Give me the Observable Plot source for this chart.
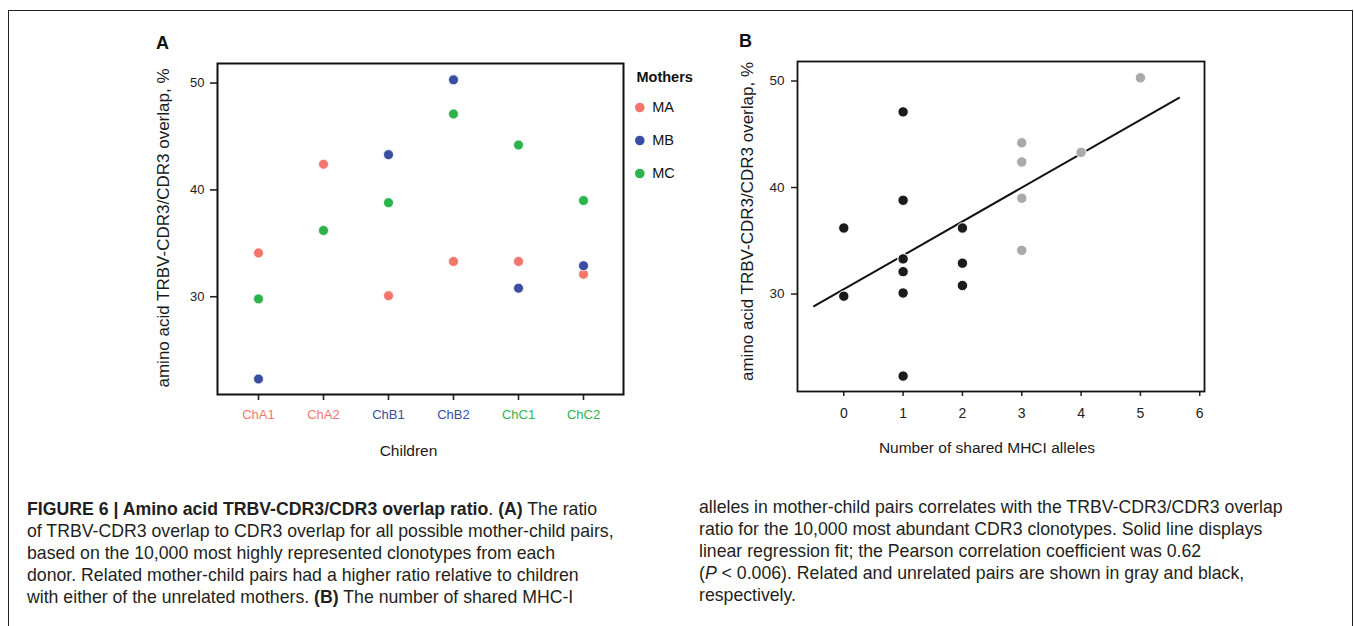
<!DOCTYPE html>
<html><head><meta charset="utf-8">
<script src="https://cdn.jsdelivr.net/npm/d3@7"></script>
<script src="https://cdn.jsdelivr.net/npm/@observablehq/plot@0.6"></script>
<style>
html,body{margin:0;padding:0;background:#fff;}
body{width:1354px;height:626px;position:relative;overflow:hidden;font-family:"Liberation Sans",Arial,sans-serif;}
#frame{position:absolute;left:8px;top:10px;width:1345px;height:640px;border:1px solid #222;border-bottom:none;box-sizing:border-box;}
.abs{position:absolute;}
.cap{position:absolute;font-size:17.7px;line-height:22px;color:#231f20;white-space:nowrap;}
.cap div{height:22px;}
</style></head><body>
<div id="frame"></div>
<div id="plotA" class="abs" style="left:0;top:0"></div>
<div id="legendA" class="abs" style="left:620px;top:60px"></div>
<div id="plotB" class="abs" style="left:700px;top:0"></div>
<div id="capL" class="cap" style="left:27px;top:498px"></div>
<div id="capR" class="cap" style="left:699px;top:496px"></div>
<script>
// ---------- data ----------
const children = ["ChA1", "ChA2", "ChB1", "ChB2", "ChC1", "ChC2"];
const childMother = ["MA", "MA", "MB", "MB", "MC", "MC"];
const mothers = ["MA", "MB", "MC"];
const motherColors = ["#f3766d", "#3a4ea1", "#2db34b"];
const overlapMA = [34.1, 42.4, 30.1, 33.3, 33.3, 32.1];
const overlapMB = [22.3, 36.2, 43.3, 50.3, 30.8, 32.9];
const overlapMC = [29.8, 36.2, 38.8, 47.1, 44.2, 39.0];
const sharedMA = [3, 3, 1, 1, 1, 1];
const sharedMB = [1, 2, 4, 5, 2, 2];
const sharedMC = [0, 0, 1, 1, 3, 3];
const yTicks = [30, 40, 50];
const xTicksB = [0, 1, 2, 3, 4, 5, 6];
const yDomain = [20.85, 51.83];
const xDomainB = [-0.78, 6.08];
const fitRange = [-0.5, 5.65];
const pairGroups = ["unrelated", "related"];
const pairColors = ["#1b1b1b", "#a9a9a9"];
const capLeft = [
  '<b>FIGURE 6 | Amino acid TRBV-CDR3/CDR3 overlap ratio</b>. <b>(A)</b> The ratio',
  'of TRBV-CDR3 overlap to CDR3 overlap for all possible mother-child pairs,',
  'based on the 10,000 most highly represented clonotypes from each',
  'donor. Related mother-child pairs had a higher ratio relative to children',
  'with either of the unrelated mothers. <b>(B)</b> The number of shared MHC-I'
];
const capRight = [
  'alleles in mother-child pairs correlates with the TRBV-CDR3/CDR3 overlap',
  'ratio for the 10,000 most abundant CDR3 clonotypes. Solid line displays',
  'linear regression fit; the Pearson correlation coefficient was 0.62',
  '(<i>P</i> &lt; 0.006). Related and unrelated pairs are shown in gray and black,',
  'respectively.'
];

// ---------- table ----------
const overlapBy = {MA: overlapMA, MB: overlapMB, MC: overlapMC};
const sharedBy = {MA: sharedMA, MB: sharedMB, MC: sharedMC};
const rows = [];
for (const m of mothers) {
  children.forEach((c, i) => {
    rows.push({child: c, mother: m, overlap: overlapBy[m][i], shared: sharedBy[m][i],
      group: childMother[i] === m ? "related" : "unrelated"});
  });
}
const mx = d3.mean(rows, d => d.shared), my = d3.mean(rows, d => d.overlap);
const slope = d3.sum(rows, d => (d.shared - mx) * (d.overlap - my)) / d3.sum(rows, d => (d.shared - mx) ** 2);
const intercept = my - slope * mx;
const fitPoints = fitRange.map(x => ({x, y: intercept + slope * x}));

const font = "Liberation Sans, Arial, sans-serif";
const yTitle = "amino acid TRBV-CDR3/CDR3 overlap, %";

// ---------- Panel A ----------
const plotA = Plot.plot({
  width: 700, height: 470,
  marginLeft: 217, marginRight: 77, marginTop: 63, marginBottom: 76,
  style: {fontFamily: font, fontSize: "13px", color: "#222", background: "transparent", overflow: "visible"},
  x: {type: "point", domain: children, padding: 0.6},
  y: {domain: yDomain},
  color: {domain: mothers, range: motherColors},
  marks: [
    Plot.axisX({ticks: children, tickSize: 6, tickPadding: 9, label: null, fontSize: 13, strokeWidth: 1.6,
      fill: d => childMother[children.indexOf(d)]}),
    Plot.axisY({ticks: yTicks, tickSize: 7, tickPadding: 6, label: null, fontSize: 13, strokeWidth: 1.6}),
    Plot.dot(rows, {x: "child", y: "overlap", fill: "mother", r: 5, stroke: "white", strokeWidth: 0.8}),
    Plot.frame({stroke: "#111", strokeWidth: 2}),
    Plot.text([yTitle], {frameAnchor: "left", textAnchor: "middle", lineAnchor: "middle", rotate: -90, dx: -54, dy: -1, fontSize: 17, fill: "#1a1a1a"}),
    Plot.text(["Children"], {frameAnchor: "bottom", textAnchor: "middle", lineAnchor: "middle", dx: -12, dy: 57, fontSize: 15.5, fill: "#1a1a1a"}),
    Plot.text(["A"], {frameAnchor: "top-left", textAnchor: "middle", lineAnchor: "middle", dx: -55, dy: -20, fontSize: 18, fontWeight: "bold", fill: "#111"})
  ]
});
document.getElementById("plotA").append(plotA);

// ---------- Legend A ----------
const legendA = Plot.plot({
  width: 100, height: 130,
  marginLeft: 0, marginRight: 0, marginTop: 47.3, marginBottom: 16.7,
  style: {fontFamily: font, color: "#111", background: "transparent", overflow: "visible"},
  y: {type: "point", domain: mothers, padding: 0, axis: null},
  color: {domain: mothers, range: motherColors},
  marks: [
    Plot.dot(mothers, {y: d => d, fill: d => d, frameAnchor: "left", dx: 19.3, r: 4.8}),
    Plot.text(mothers, {y: d => d, frameAnchor: "left", dx: 31.7, textAnchor: "start", fontSize: 14.5}),
    Plot.text(["Mothers"], {frameAnchor: "top-left", textAnchor: "start", lineAnchor: "middle", dx: 16, dy: -30.3, fontSize: 14.5, fontWeight: "bold"})
  ]
});
document.getElementById("legendA").append(legendA);

// ---------- Panel B ----------
const plotB = Plot.plot({
  width: 530, height: 470,
  marginLeft: 97, marginRight: 26, marginTop: 61, marginBottom: 79,
  style: {fontFamily: font, fontSize: "13px", color: "#222", background: "transparent", overflow: "visible"},
  x: {domain: xDomainB},
  y: {domain: yDomain},
  color: {domain: pairGroups, range: pairColors},
  marks: [
    Plot.axisX({ticks: xTicksB, tickFormat: d => String(d), tickSize: 5, tickPadding: 12, label: null, fontSize: 14, strokeWidth: 1.5}),
    Plot.axisY({ticks: yTicks, tickSize: 6, tickPadding: 7, label: null, fontSize: 13.5, strokeWidth: 1.5}),
    Plot.line(fitPoints, {x: "x", y: "y", stroke: "#111", strokeWidth: 2}),
    Plot.dot(rows, {x: "shared", y: "overlap", fill: "group", r: 5.2, stroke: "white", strokeWidth: 1}),
    Plot.frame({stroke: "#111", strokeWidth: 1.8}),
    Plot.text([yTitle], {frameAnchor: "left", textAnchor: "middle", lineAnchor: "middle", rotate: -90, dx: -50.3, dy: -5, fontSize: 17, fill: "#1a1a1a"}),
    Plot.text(["Number of shared MHCI alleles"], {frameAnchor: "bottom", textAnchor: "middle", lineAnchor: "middle", dx: -14, dy: 56.7, fontSize: 15.5, fill: "#1a1a1a"}),
    Plot.text(["B"], {frameAnchor: "top-left", textAnchor: "middle", lineAnchor: "middle", dx: -52, dy: -20.3, fontSize: 18, fontWeight: "bold", fill: "#111"})
  ]
});
document.getElementById("plotB").append(plotB);

// ---------- caption ----------
for (const [id, lines] of [["capL", capLeft], ["capR", capRight]]) {
  const el = document.getElementById(id);
  for (const l of lines) { const d = document.createElement("div"); d.innerHTML = l; el.append(d); }
}
</script>
</body></html>
